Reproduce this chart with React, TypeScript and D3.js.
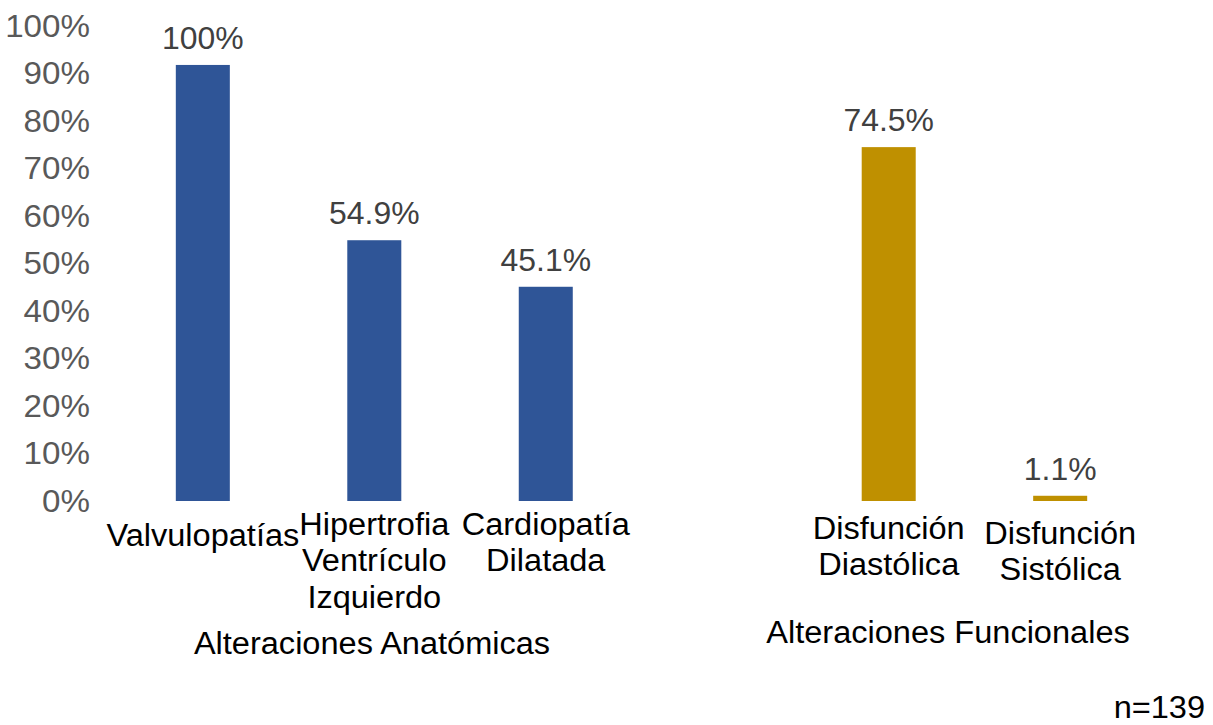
import React from "react";
import * as d3 from "d3";

const categories = [
  "Valvulopatías",
  "Hipertrofia Ventrículo Izquierdo",
  "Cardiopatía Dilatada",
  "",
  "Disfunción Diastólica",
  "Disfunción Sistólica",
];
const categoryLines = [
  ["Valvulopatías"],
  ["Hipertrofia", "Ventrículo", "Izquierdo"],
  ["Cardiopatía", "Dilatada"],
  [],
  ["Disfunción", "Diastólica"],
  ["Disfunción", "Sistólica"],
];
const groups = ["Anat", "Anat", "Anat", "", "Func", "Func"];
const values = [91.8, 54.9, 45.1, null, 74.5, 1.1];
const valueLabels = ["100%", "54.9%", "45.1%", "", "74.5%", "1.1%"];
const groupNames = ["Alteraciones Anatómicas", "Alteraciones Funcionales"];
const yTicks = [0, 10, 20, 30, 40, 50, 60, 70, 80, 90, 100];
const note = "n=139";

const W = 1213;
const H = 725;
const FONT = "'Liberation Sans', Arial, sans-serif";
const colors: Record<string, string> = { Anat: "#2F5597", Func: "#BF9000" };

function T({
  x,
  y,
  anchor = "middle",
  fill = "#000",
  sx = 1.05,
  size = 31,
  lines,
  lh = 36.5,
}: {
  x: number;
  y: number;
  anchor?: string;
  fill?: string;
  sx?: number;
  size?: number;
  lines: string[];
  lh?: number;
}) {
  return (
    <text
      transform={`translate(${x},${y}) scale(${sx},1)`}
      textAnchor={anchor}
      fontSize={size}
      fill={fill}
    >
      {lines.map((ln, j) => (
        <tspan key={j} x={0} y={j * lh} dy="0.35em">
          {ln}
        </tspan>
      ))}
    </text>
  );
}

export default function App() {
  const x = d3
    .scaleBand<string>()
    .domain(categories.map((c, i) => String(i)))
    .range([117, 1146])
    .paddingInner(0.685)
    .paddingOuter(0.343);
  const y = d3.scaleLinear().domain([0, 100]).range([501, 26]);
  const firstLineY = [535, 524, 524, 0, 528, 533];
  const cx = (i: number) => (x(String(i)) as number) + x.bandwidth() / 2;
  return (
    <div style={{ position: "absolute", left: 0, top: 0 }}>
      <svg width={W} height={H} style={{ display: "block", fontFamily: FONT }}>
        <rect width={W} height={H} fill="#fff" />
        {yTicks.map((t) => (
          <T key={t} x={90} y={y(t)} anchor="end" fill="#595959" sx={1.07} lines={[`${t}%`]} />
        ))}
        {values.map((v, i) =>
          v == null ? null : (
            <rect
              key={i}
              x={x(String(i))}
              y={y(v)}
              width={x.bandwidth()}
              height={y(0) - y(v)}
              fill={colors[groups[i]]}
            />
          )
        )}
        {values.map((v, i) =>
          v == null ? null : (
            <T key={"l" + i} x={cx(i)} y={y(v) - 27} fill="#404040" sx={1.03} lines={[valueLabels[i]]} />
          )
        )}
        {categoryLines.map((lines, i) =>
          lines.length ? <T key={"c" + i} x={cx(i)} y={firstLineY[i]} lines={lines} /> : null
        )}
        <T x={372} y={643} lines={[groupNames[0]]} />
        <T x={948} y={632} lines={[groupNames[1]]} />
        <T x={1205} y={707} anchor="end" lines={[note]} />
      </svg>
    </div>
  );
}
